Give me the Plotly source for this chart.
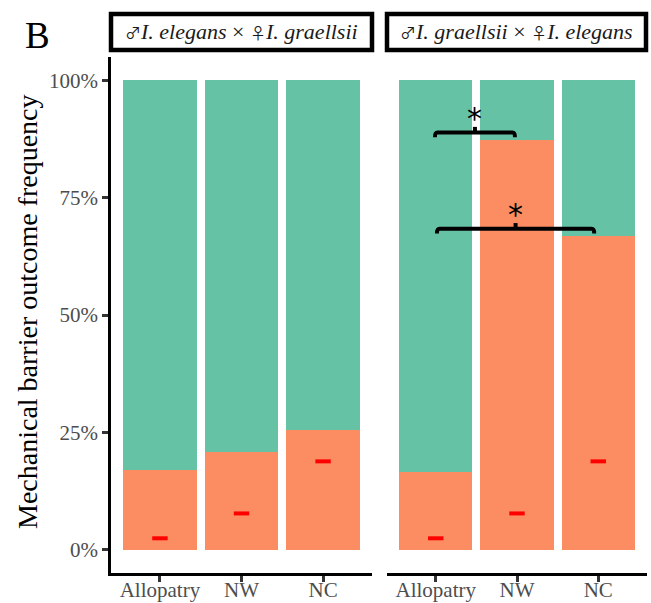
import plotly.graph_objects as go

# Sympatry/allopatry groups and per-panel outcome frequencies (%)
groups = ["Allopatry", "NW", "NC"]
MALE = '<span style="font-family:\'Noto Sans CJK JP\';font-size:16px">♂</span>'
FEMALE = '<span style="font-family:\'Noto Sans CJK JP\';font-size:16px">♀</span>'
panel_titles = [
    f"{MALE}<i>I. elegans</i> × {FEMALE}<i>I. graellsii</i>",
    f"{MALE}<i>I. graellsii</i> × {FEMALE}<i>I. elegans</i>",
]
barrier_pct = [
    [17.0, 20.8, 25.5],   # ♂ I. elegans × ♀ I. graellsii
    [16.6, 87.4, 66.8],   # ♂ I. graellsii × ♀ I. elegans
]
marker_pct = [
    [2.4, 7.7, 18.8],
    [2.4, 7.7, 18.8],
]
y_ticks = [0, 25, 50, 75, 100]
y_ticklabels = ["0%", "25%", "50%", "75%", "100%"]

# significance comparisons in the second panel: (from, to, height, label)
comparisons = [
    (-0.01, 0.975, 88.9, "*"),
    (0.015, 1.95, 68.4, "*"),
]

ORANGE = "#FC8D62"
TEAL = "#66C2A5"
SERIF = "Liberation Serif, Times New Roman, serif"

W, H = 651, 603
x_domains = [[111 / W, 372 / W], [387 / W, 647 / W]]
y_domain = [(H - 573) / H, (H - 57) / H]

fig = go.Figure()

for i in range(2):
    xa = "x" if i == 0 else "x2"
    fig.add_trace(go.Bar(
        x=groups, y=barrier_pct[i], marker=dict(color=ORANGE, line=dict(width=0)),
        width=0.9, xaxis=xa, yaxis="y", showlegend=False, hoverinfo="skip",
    ))
    fig.add_trace(go.Bar(
        x=groups, y=[100 - v for v in barrier_pct[i]],
        marker=dict(color=TEAL, line=dict(width=0)),
        width=0.9, xaxis=xa, yaxis="y", showlegend=False, hoverinfo="skip",
    ))
    fig.add_trace(go.Scatter(
        x=groups, y=marker_pct[i], mode="markers", xaxis=xa, yaxis="y",
        marker=dict(symbol="line-ew", size=11, color="#FF0000",
                    line=dict(width=4, color="#FF0000")),
        showlegend=False, hoverinfo="skip",
    ))

axis_common = dict(
    type="category", range=[-0.6, 2.6], showgrid=False, zeroline=False,
    showline=True, linecolor="black", linewidth=2.5,
    ticks="outside", ticklen=6, tickwidth=2.5, tickcolor="#333333",
    tickfont=dict(family=SERIF, size=21, color="#4D4D4D"),
    ticklabelstandoff=-10,
    anchor="y", fixedrange=True, automargin=False,
)

fig.update_layout(
    width=W, height=H,
    margin=dict(l=0, r=0, t=0, b=0),
    paper_bgcolor="white", plot_bgcolor="white",
    barmode="stack", bargap=0.1,
    xaxis=dict(domain=x_domains[0], **axis_common),
    xaxis2=dict(domain=x_domains[1], **axis_common),
    yaxis=dict(
        domain=y_domain, range=[-5, 105], anchor="x",
        tickvals=y_ticks, ticktext=y_ticklabels,
        showgrid=False, zeroline=False,
        showline=True, linecolor="black", linewidth=2.5,
        ticks="outside", ticklen=6, tickwidth=2.5, tickcolor="#333333",
        tickfont=dict(family=SERIF, size=21, color="#4D4D4D"),
        fixedrange=True, automargin=False,
    ),
)

shapes = []
annotations = []

# y-axis title
annotations.append(dict(
    text="Mechanical barrier outcome frequency", xref="paper", yref="paper",
    x=27 / W, y=(H - 312) / H, textangle=-90, showarrow=False,
    xanchor="center", yanchor="middle",
    font=dict(family=SERIF, size=28, color="black"),
))

# facet strips
strip_boxes = [(111, 372), (387, 646)]
for (x0, x1), title in zip(strip_boxes, panel_titles):
    shapes.append(dict(
        type="rect", xref="paper", yref="paper",
        x0=x0 / W, x1=x1 / W, y0=(H - 50) / H, y1=(H - 14) / H,
        line=dict(color="black", width=4.5), fillcolor="white", layer="above",
    ))
    annotations.append(dict(
        text=title, xref="paper", yref="paper",
        x=(x0 + x1) / 2 / W, y=(H - 32) / H, showarrow=False,
        xanchor="center", yanchor="middle",
        font=dict(family=SERIF, size=22, color="#1A1A1A"),
    ))

# significance brackets
for a, b, yb, lab in comparisons:
    mid = (a + b) / 2
    hook = 1.0
    path = (f"M {a},{yb - hook} Q {a},{yb} {a + 0.03},{yb} "
            f"L {b - 0.03},{yb} Q {b},{yb} {b},{yb - hook}")
    shapes.append(dict(type="path", xref="x2", yref="y", path=path,
                       line=dict(color="black", width=4)))
    shapes.append(dict(type="line", xref="x2", yref="y",
                       x0=mid, x1=mid, y0=yb, y1=yb + 1.2,
                       line=dict(color="black", width=4)))
    annotations.append(dict(
        text=lab, xref="x2", yref="y", x=mid, y=yb + 3.0, showarrow=False,
        xanchor="center", yanchor="middle",
        font=dict(family="DejaVu Sans, sans-serif", size=30, color="black"),
    ))

# panel label
annotations.append(dict(
    text="B", xref="paper", yref="paper", x=37 / W, y=(H - 36) / H,
    showarrow=False, xanchor="center", yanchor="middle",
    font=dict(family=SERIF, size=37, color="black"),
))

fig.update_layout(shapes=shapes, annotations=annotations)

fig.write_html("out.html")
